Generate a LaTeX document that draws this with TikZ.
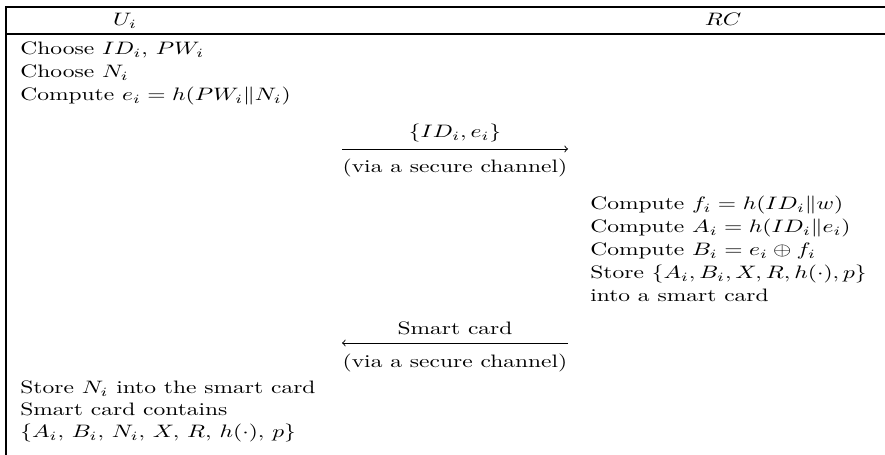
\documentclass[tikz,border=0pt]{standalone}
\usepackage{tikz}
\usepackage{graphicx}
\tikzstyle{rowtext}=[anchor=base west, inner sep=0pt]
\tikzstyle{midtext}=[anchor=base, inner sep=0pt]
\tikzstyle{rule}=[line width=0.8pt]
\tikzstyle{msg}=[line width=0.5pt, ->]
\newcommand{\wide}[1]{\scalebox{1.305}[1]{#1}}
\newcommand{\rowtext}{\node[rowtext]}
\newcommand{\midtext}{\node[midtext]}

\begin{document}
\begin{tikzpicture}[x=0.5556pt, y=-0.5556pt]
\useasboundingbox (0,0) rectangle (885,455);
% table rules
\draw[rule] (885,7) -- (6,7) -- (6,455);
\draw[rule] (6,34) -- (885,34);
\midtext (ui) at (125,26) {\wide{$U_i$}};
\midtext (rc) at (723,26) {\wide{$RC$}};
% user side
\foreach \t [count=\k] in {{Choose $ID_i$, $PW_i$}, {Choose $N_i$}, {Compute $e_i = h(PW_i\|N_i)$}}{
	\rowtext (u\k) at (20,32+23*\k) {\wide{\t}};
	}
% first message
\coordinate (m1s) at (342,149);
\coordinate (m1e) at (568,149);
\draw[msg] (m1s) -- (m1e);
\midtext (m1lab) at (455,138) {\wide{$\{ID_i, e_i\}$}};
\midtext (m1via) at (455,173) {\wide{(via a secure channel)}};
% registration centre
\foreach \t [count=\k] in {{Compute $f_i = h(ID_i\|w)$}, {Compute $A_i = h(ID_i\|e_i)$}, {Compute $B_i = e_i \oplus f_i$}, {Store $\{A_i, B_i, X, R, h(\cdot), p\}$}, {into a smart card}}{
	\rowtext (r\k) at (590,187+23*\k) {\wide{\t}};
	}
% second message
\coordinate (m2s) at (568,343);
\coordinate (m2e) at (342,343);
\draw[msg] (m2s) -- (m2e);
\midtext (m2lab) at (455,335) {\wide{Smart card}};
\midtext (m2via) at (455,368) {\wide{(via a secure channel)}};
% user stores
\foreach \t [count=\k] in {{Store $N_i$ into the smart card}, {Smart card contains}, {$\{A_i,\, B_i,\, N_i,\, X,\, R,\, h(\cdot),\, p\}$}}{
	\rowtext (s\k) at (20,372+22*\k) {\wide{\t}};
	}
\end{tikzpicture}
\end{document}
